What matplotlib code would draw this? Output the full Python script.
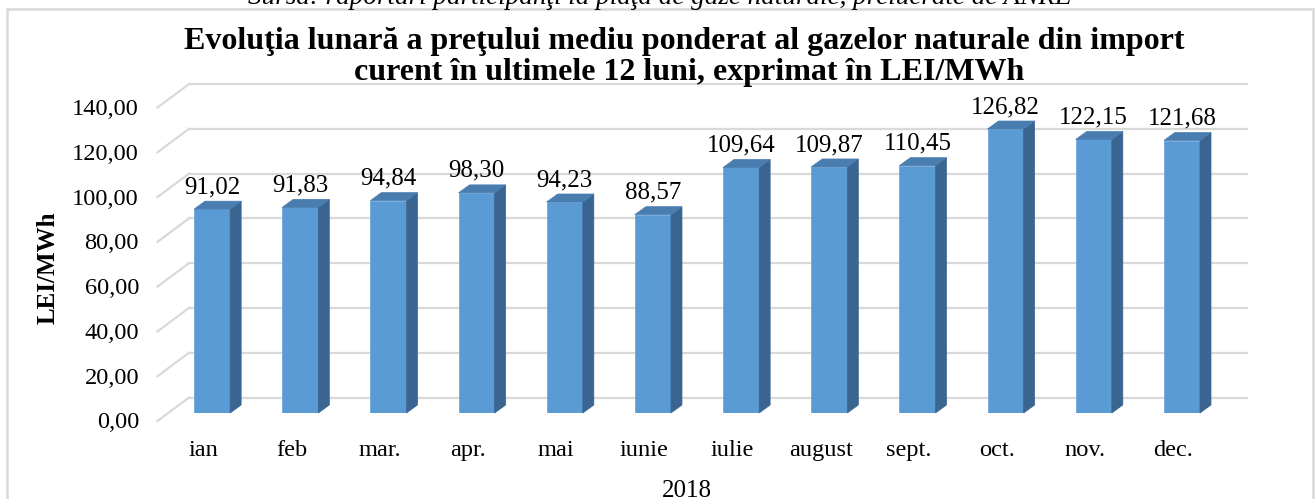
import matplotlib
matplotlib.use("Agg")
import matplotlib.pyplot as plt
from matplotlib.patches import Polygon, Rectangle
import numpy as np

plt.rcParams['font.family'] = ['Liberation Serif', 'DejaVu Serif']

months = ["ian", "feb", "mar.", "apr.", "mai", "iunie", "iulie", "august",
          "sept.", "oct.", "nov.", "dec."]
values = [91.02, 91.83, 94.84, 98.30, 94.23, 88.57, 109.64, 109.87,
          110.45, 126.82, 122.15, 121.68]
yticks = [0, 20, 40, 60, 80, 100, 120, 140]
title1 = "Evoluţia lunară a preţului mediu ponderat al gazelor naturale din import"
title2 = "curent în ultimele 12 luni, exprimat în LEI/MWh"
source = "Sursa: raportări participanţi la piaţa de gaze naturale, prelucrate de ANRE"
ylabel = "LEI/MWh"
xlabel = "2018"

W, H = 1316, 499
DPI = 100
fig = plt.figure(figsize=(W / DPI, H / DPI), dpi=DPI)

# front plane of bars
ax_left, ax_right, ax_bottom, ax_top = 168, 1226, 413, 99.5
ax = fig.add_axes([ax_left / W, 1 - ax_bottom / H,
                   (ax_right - ax_left) / W, (ax_bottom - ax_top) / H])
n = len(months)
ax.set_xlim(-0.5, n - 0.5)
ax.set_ylim(0, 140)
ax.axis('off')

# pixel -> data conversion
pxx = (ax_right - ax_left) / n          # px per x unit
pxy = (ax_bottom - ax_top) / 140.0      # px per y unit
def dx(p):
    return p / pxx
def dy(p):
    return p / pxy

grid_c = "#D9D9D9"
wall_dx, wall_dy = 21, 15.5
floor_dx, floor_dy = -10.5, -8

# back wall gridlines and side diagonals
for v in yticks:
    ax.plot([-0.5 + dx(wall_dx), n - 0.5 + dx(wall_dx)],
            [v + dy(wall_dy), v + dy(wall_dy)],
            color=grid_c, lw=1.6, clip_on=False, zorder=1)
    ax.plot([-0.5 + dx(floor_dx), -0.5 + dx(wall_dx)],
            [v + dy(floor_dy), v + dy(wall_dy)],
            color=grid_c, lw=1.6, clip_on=False, zorder=1)
    ax.text(-0.5 + dx(-29), v - dy(15.5), f"{v:.2f}".replace(".", ","),
            ha='right', va='baseline', fontsize=17.6, color='#000000')

# bars
bw = 0.41
bdx, bdy = 11, 8
front_c = "#5B9BD5"
side_c = "#3A6590"
top_c = "#497DB0"
xs = np.arange(n)
ax.bar(xs, values, width=bw, color=front_c, edgecolor="#6FA8DC",
       linewidth=0.6, zorder=3)
for x, v in zip(xs, values):
    r = x + bw / 2
    l = x - bw / 2
    side = Polygon([(r, 0), (r + dx(bdx), dy(bdy)), (r + dx(bdx), v + dy(bdy)),
                    (r, v)], closed=True, facecolor=side_c, edgecolor=side_c,
                   lw=0.5, zorder=3, clip_on=False)
    top = Polygon([(l, v), (r, v), (r + dx(bdx), v + dy(bdy)),
                   (l + dx(bdx), v + dy(bdy))], closed=True, facecolor=top_c,
                  edgecolor=top_c, lw=0.5, zorder=3, clip_on=False)
    ax.add_patch(side)
    ax.add_patch(top)
    ax.text(x, v + dy(16), f"{v:.2f}".replace(".", ","), ha='center',
            va='baseline', fontsize=18, zorder=5, clip_on=False)

for x, m in zip(xs, months):
    ax.text(x + dx(-8.5), -dy(43), m, ha='center', va='baseline',
            fontsize=17.6, clip_on=False)

# texts
fig.text(684 / W, 1 - 49 / H, title1, ha='center', va='baseline',
         fontsize=23, fontweight='bold')
fig.text(689 / W, 1 - 80 / H, title2, ha='center', va='baseline',
         fontsize=23, fontweight='bold')
fig.text(660 / W, 1 - 4 / H, source, ha='center', va='baseline',
         fontsize=19.5, style='italic')
fig.text(48 / W, 1 - 268 / H, ylabel, ha='center', va='center',
         rotation=90, fontsize=18, fontweight='bold')
fig.text(687 / W, 1 - 497 / H, xlabel, ha='center', va='baseline',
         fontsize=18)

# chart border
fig.patches.append(Rectangle((7 / W, -0.05), (1313 - 7) / W, 1.05 - 9 / H,
                             transform=fig.transFigure, fill=False,
                             edgecolor=grid_c, lw=1.8))

fig.savefig("out.png", dpi=DPI)
